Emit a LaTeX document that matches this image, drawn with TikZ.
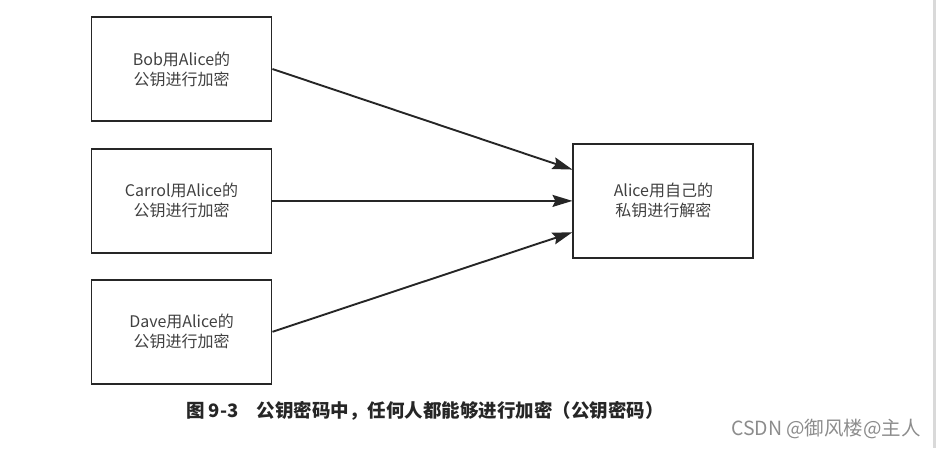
\documentclass[tikz,border=0pt]{standalone}
\usepackage{fontspec}
\setmainfont{Noto Sans CJK SC}
\newfontfamily\cjk{Noto Sans CJK SC}
\usetikzlibrary{positioning, arrows.meta}

\begin{document}
\begin{tikzpicture}[
  >={Stealth[length=20pt, width=12pt, inset=3pt]},
  x=1pt, y=1pt,
  node distance=26pt
]
\tikzstyle{box}=[draw=black!85, line width=1.9pt, minimum width=180pt, minimum height=104pt, inner sep=0pt, align=center, text=black!75, font=\cjk\fontsize{16}{20}\selectfont]
\tikzstyle{link}=[->, draw=black!85, line width=1.9pt]

\useasboundingbox (0,0) rectangle (936,448);
\fill[black!15] (933,0) rectangle (936,448);

% ================= SENDERS =================
\node[box] (bob) at (181.5,379) {Bob用Alice的\\公钥进行加密};
\node[box] (carrol) [below=26pt of bob] {Carrol用Alice的\\公钥进行加密};
\node[box] (dave) [below=25pt of carrol] {Dave用Alice的\\公钥进行加密};

% ================= RECEIVER =================
\node[box, minimum height=114pt] (alice) [right=300pt of carrol] {Alice用自己的\\私钥进行解密};

% ===== Encrypted messages =====
\draw[link] (bob.east) -- (alice.161);
\draw[link] (carrol) -- (alice);
\draw[link] (dave.east) -- (alice.199);

% ===== Caption =====
\node[font=\cjk\bfseries\fontsize{18.5}{20}\selectfont, text=black!85] (caption) at (425,37) {图 9-3\quad 公钥密码中，任何人都能够进行加密（公钥密码）};
\node[font=\cjk\fontsize{19.5}{20}\selectfont, text=black!45] (mark) at (826,19) {CSDN @御风楼@主人};
\end{tikzpicture}
\end{document}
